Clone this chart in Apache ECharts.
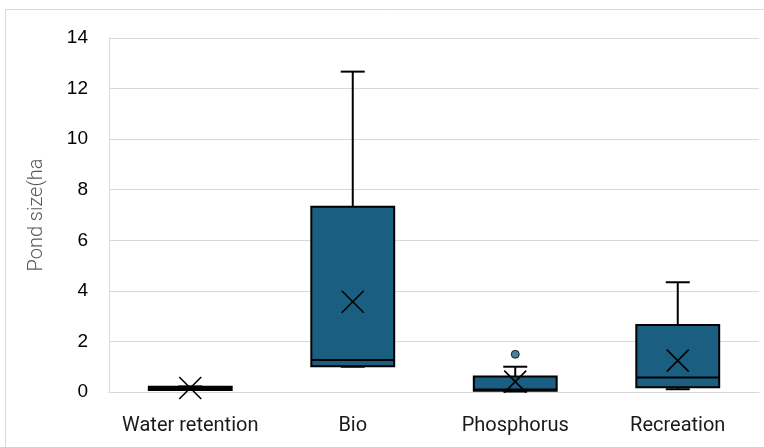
<!DOCTYPE html>
<html>
<head>
<meta charset="utf-8">
<script src="https://cdn.jsdelivr.net/npm/echarts@6/dist/echarts.min.js"></script>
<style>html,body{margin:0;padding:0;background:#fff;}#c{width:764px;height:447px;}</style>
</head>
<body>
<div id="c"></div>
<script>
const categories = ['Water retention', 'Bio', 'Phosphorus', 'Recreation'];
const minVals = [0.10, 1.00, 0.02, 0.11];
const q1Vals = [0.08, 1.02, 0.05, 0.19];
const medianVals = [0.15, 1.27, 0.10, 0.57];
const q3Vals = [0.21, 7.33, 0.61, 2.65];
const maxVals = [0.22, 12.67, 1.00, 4.34];
const meanVals = [0.16, 3.57, 0.41, 1.24];
const outlierPoints = [[2, 1.49]];
const yTicks = { min: 0, max: 14, interval: 2 };

const boxData = categories.map((c, i) => [i, minVals[i], q1Vals[i], medianVals[i], q3Vals[i], maxVals[i], meanVals[i]]);

const chart = echarts.init(document.getElementById('c'));
const FILL = '#1a5f82';
chart.setOption({
  animation: false,
  grid: { left: 109, right: 5, top: 38, bottom: 55 },
  graphic: [{
    type: 'rect', silent: true, z: -10,
    shape: { x: 5.5, y: 9.5, width: 800, height: 500 },
    style: { fill: 'none', stroke: '#d9d9d9', lineWidth: 1 }
  }],
  xAxis: {
    type: 'category', data: categories,
    axisLine: { show: true, lineStyle: { color: '#d9d9d9', width: 1 } },
    axisTick: { show: false },
    axisLabel: { color: '#1a1a1a', fontSize: 20, fontFamily: 'Roboto', margin: 24, interval: 0 },
    splitLine: { show: false }
  },
  yAxis: {
    type: 'value', min: yTicks.min, max: yTicks.max, interval: yTicks.interval,
    name: 'Pond size(ha', nameLocation: 'middle', nameGap: 62, nameRotate: 90,
    nameTextStyle: { color: '#595959', fontSize: 20, fontFamily: 'Roboto', fontWeight: 300 },
    axisLine: { show: true, lineStyle: { color: '#d9d9d9', width: 1 } },
    axisTick: { show: false },
    axisLabel: { color: '#000', fontSize: 19, fontFamily: 'Liberation Sans', margin: 21 },
    splitLine: { show: true, lineStyle: { color: '#d9d9d9', width: 1 } }
  },
  series: [{
    type: 'custom',
    data: boxData,
    encode: { x: 0, y: [1, 2, 3, 4, 5, 6] },
    renderItem: function (params, api) {
      const idx = api.value(0);
      const band = api.size([1, 0])[0];
      const bw = band * 0.51;
      const cx = api.coord([idx, 0])[0];
      const yMin = api.coord([idx, api.value(1)])[1];
      const yQ1 = api.coord([idx, api.value(2)])[1];
      const yMed = api.coord([idx, api.value(3)])[1];
      const yQ3 = api.coord([idx, api.value(4)])[1];
      const yMax = api.coord([idx, api.value(5)])[1];
      const yMean = api.coord([idx, api.value(6)])[1];
      const capHalf = 12;
      const xs = 11;
      const lineStyle = { stroke: '#000', lineWidth: 2, fill: null };
      return {
        type: 'group',
        children: [
          { type: 'line', shape: { x1: cx, y1: yQ3, x2: cx, y2: yMax }, style: lineStyle },
          { type: 'line', shape: { x1: cx - capHalf, y1: yMax, x2: cx + capHalf, y2: yMax }, style: lineStyle },
          { type: 'line', shape: { x1: cx, y1: yQ1, x2: cx, y2: yMin }, style: lineStyle },
          { type: 'line', shape: { x1: cx - capHalf, y1: yMin, x2: cx + capHalf, y2: yMin }, style: lineStyle },
          { type: 'rect', shape: { x: cx - bw / 2, y: Math.min(yQ3, yQ1), width: bw, height: Math.max(Math.abs(yQ1 - yQ3), 1) },
            style: { fill: FILL, stroke: '#000', lineWidth: 2 } },
          { type: 'line', shape: { x1: cx - bw / 2, y1: yMed, x2: cx + bw / 2, y2: yMed }, style: lineStyle },
          { type: 'line', shape: { x1: cx - xs, y1: yMean - xs, x2: cx + xs, y2: yMean + xs }, style: { stroke: '#000', lineWidth: 1.6 } },
          { type: 'line', shape: { x1: cx - xs, y1: yMean + xs, x2: cx + xs, y2: yMean - xs }, style: { stroke: '#000', lineWidth: 1.6 } }
        ]
      };
    }
  }, {
    type: 'scatter',
    data: outlierPoints,
    symbol: 'circle', symbolSize: 8,
    itemStyle: { color: FILL, borderColor: '#000', borderWidth: 1 },
    z: 5
  }]
});
</script>
</body>
</html>
